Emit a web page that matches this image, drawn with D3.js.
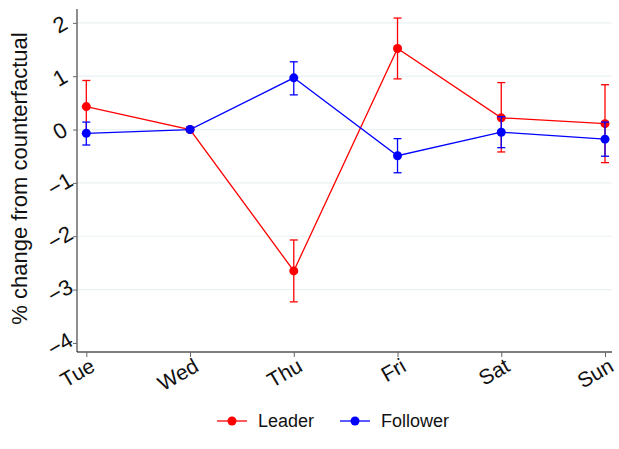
<!DOCTYPE html>
<html>
<head>
<meta charset="utf-8">
<script src="https://cdn.jsdelivr.net/npm/d3@7"></script>
<style>
  body { margin: 0; background: #fff; }
  svg text { font-family: Arial, "Liberation Sans", sans-serif; fill: #111; }
</style>
</head>
<body>
<svg id="chart" width="619" height="449"></svg>
<script>
const days = ["Tue", "Wed", "Thu", "Fri", "Sat", "Sun"];
const yTicks = [-4, -3, -2, -1, 0, 1, 2];
const gridTicks = [-3, -2, -1, 0, 1, 2];

const leader = [0.43, 0, -2.65, 1.52, 0.22, 0.11];
const leaderLo = [-0.07, 0, -3.23, 0.95, -0.42, -0.62];
const leaderHi = [0.92, 0, -2.07, 2.09, 0.88, 0.84];

const follower = [-0.07, 0, 0.97, -0.49, -0.05, -0.18];
const followerLo = [-0.29, 0, 0.65, -0.81, -0.34, -0.5];
const followerHi = [0.14, 0, 1.27, -0.17, 0.24, 0.14];

const series = [
  { name: "Leader", color: "#ff0000", v: leader, lo: leaderLo, hi: leaderHi },
  { name: "Follower", color: "#0000ff", v: follower, lo: followerLo, hi: followerHi },
];

const svg = d3.select("#chart");
const plotLeft = 77, plotRight = 612, plotTop = 9, plotBottom = 352;

const x = d3.scalePoint().domain(days).range([86.3, 605]);
const y = d3.scaleLinear().domain([-4.17, 2.26]).range([plotBottom, plotTop]);

// grid
svg.append("g")
  .selectAll("line")
  .data(gridTicks)
  .join("line")
  .attr("x1", plotLeft).attr("x2", plotRight)
  .attr("y1", (d) => y(d)).attr("y2", (d) => y(d))
  .attr("stroke", "#eaf2f3").attr("stroke-width", 1.2);

// y axis
const yAxis = svg.append("g")
  .attr("transform", `translate(${plotLeft},0)`)
  .call(d3.axisLeft(y).tickValues(yTicks).tickSize(4).tickPadding(4).tickFormat(d3.format("d")));
yAxis.select(".domain").attr("stroke", "#444").attr("stroke-width", 1.2).attr("d", `M0,${plotTop}V${plotBottom}`);
yAxis.selectAll(".tick line").attr("stroke", "#666");
yAxis.selectAll(".tick text")
  .attr("font-size", 22)
  .attr("x", null).attr("dy", null)
  .attr("text-anchor", "middle")
  .attr("transform", "translate(-17,1) rotate(-30)")
  .attr("dominant-baseline", "central");

// x axis
const xAxis = svg.append("g")
  .attr("transform", `translate(0,${plotBottom})`)
  .call(d3.axisBottom(x).tickSize(5).tickPadding(3));
xAxis.select(".domain").attr("stroke", "#000").attr("stroke-width", 1.2).attr("d", `M${plotLeft},0H${plotRight}`);
xAxis.selectAll(".tick line").attr("stroke", "#666");
xAxis.selectAll(".tick text")
  .attr("font-size", 21)
  .attr("y", null).attr("dy", null)
  .attr("text-anchor", "end")
  .attr("transform", "translate(2,5) rotate(-30)")
  .attr("dominant-baseline", "hanging");

// y label
svg.append("text")
  .attr("transform", `translate(27,${(plotTop + plotBottom) / 2 - 2}) rotate(-90)`)
  .attr("text-anchor", "middle")
  .attr("font-size", 22)
  .text("% change from counterfactual");

// series
const line = d3.line().x((d) => x(d.day)).y((d) => y(d.v));
series.forEach((s) => {
  const pts = days.map((day, i) => ({ day, v: s.v[i], lo: s.lo[i], hi: s.hi[i] }));
  const g = svg.append("g");
  const bars = pts.filter((d) => d.lo !== d.hi);
  g.selectAll(".err").data(bars).join("line")
    .attr("x1", (d) => x(d.day)).attr("x2", (d) => x(d.day))
    .attr("y1", (d) => y(d.lo)).attr("y2", (d) => y(d.hi))
    .attr("stroke", s.color).attr("stroke-width", 1.3);
  ["lo", "hi"].forEach((k) => {
    g.selectAll(".cap-" + k).data(bars).join("line")
      .attr("x1", (d) => x(d.day) - 4).attr("x2", (d) => x(d.day) + 4)
      .attr("y1", (d) => y(d[k])).attr("y2", (d) => y(d[k]))
      .attr("stroke", s.color).attr("stroke-width", 1.3);
  });
  g.append("path").datum(pts).attr("d", line)
    .attr("fill", "none").attr("stroke", s.color).attr("stroke-width", 1.3);
  g.selectAll("circle").data(pts).join("circle")
    .attr("cx", (d) => x(d.day)).attr("cy", (d) => y(d.v)).attr("r", 4.5)
    .attr("fill", s.color);
});

// legend
const legendItems = [
  { name: "Leader", color: "#ff0000", x0: 217 },
  { name: "Follower", color: "#0000ff", x0: 340 },
];
const lg = svg.append("g").attr("transform", "translate(0,421)");
legendItems.forEach((d) => {
  lg.append("line").attr("x1", d.x0).attr("x2", d.x0 + 30).attr("y1", 0).attr("y2", 0)
    .attr("stroke", d.color).attr("stroke-width", 1.3);
  lg.append("circle").attr("cx", d.x0 + 15).attr("cy", 0).attr("r", 4.5).attr("fill", d.color);
  lg.append("text").attr("x", d.x0 + 41).attr("y", 0).attr("dominant-baseline", "central")
    .attr("font-size", 18).text(d.name);
});
</script>
</body>
</html>
